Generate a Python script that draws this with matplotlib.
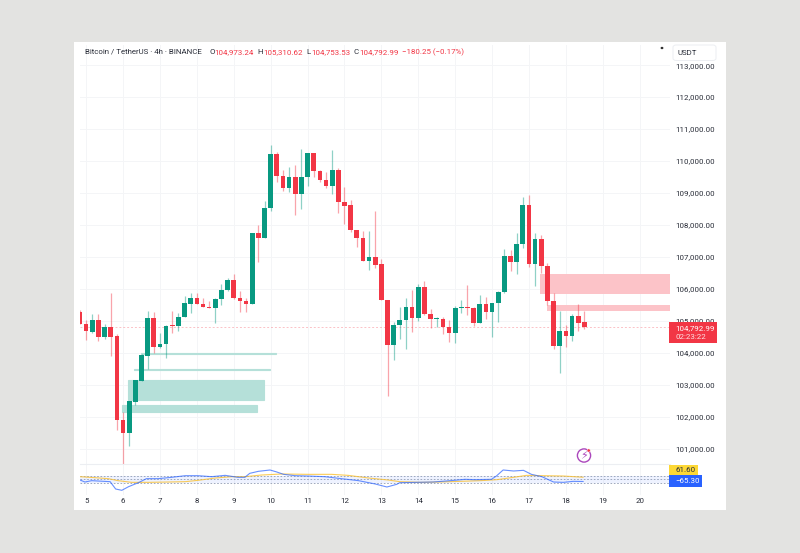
import numpy as np
import matplotlib
matplotlib.use('Agg')
import matplotlib.pyplot as plt
from matplotlib.patches import Rectangle, FancyBboxPatch, Circle

plt.rcParams['font.family'] = ['Roboto', 'DejaVu Sans']

# candles, 4h
opens = [105284, 104898, 104658, 105023, 104491, 104804, 104523, 101905, 101488, 102468,
         103125, 103907, 105076, 104189, 104262, 104867, 104836, 105128, 105524, 105701,
         105524, 105441, 105388, 105670, 105962, 106275, 105701, 105628, 105524, 107737,
         107601, 108529, 110229, 109531, 109166, 109510, 108978, 109489, 110240, 109698,
         109406, 109218, 109718, 108717, 108613, 107841, 107601, 106871, 106986, 106767,
         105651, 104253, 104869, 105015, 105422, 105088, 106047, 105202, 105046, 105067,
         104806, 104618, 105390, 105442, 105401, 104942, 105536, 105265, 105568, 105891,
         107028, 106850, 107392, 108612, 106766, 107559, 106724, 105619, 104211, 104670,
         104524, 105160, 104973.24]
highs = [105350, 105023, 105211, 105211, 104898, 105879, 104585, 102155, 102478, 103136,
         103960, 105305, 105274, 104606, 104867, 105295, 105253, 105774, 105858, 105879,
         105701, 105628, 105701, 106150, 106340, 106463, 105940, 105701, 107737, 107987,
         108748, 110501, 110282, 109718, 109823, 109875, 110375, 110261, 110240, 109718,
         109645, 110344, 109781, 109187, 108780, 107841, 107799, 107799, 108436, 106923,
         105651, 104973, 105422, 105724, 105964, 106152, 106235, 105380, 105130, 105109,
         105025, 105463, 105651, 106110, 105422, 105807, 105755, 105568, 105943, 107236,
         107216, 107758, 108883, 108936, 107736, 107684, 106797, 105859, 105316, 104868,
         105202, 105525, 105310.62]
lows = [104888, 104398, 104627, 104366, 104418, 103897, 101582, 100518, 101091, 102364,
        103125, 103490, 103980, 104158, 103845, 104627, 104669, 105128, 105253, 105524,
        105420, 105388, 104940, 105493, 105931, 105671, 105284, 105284, 105524, 106850,
        107601, 108436, 109353, 109061, 109030, 108310, 108498, 109218, 109489, 109343,
        109166, 108978, 108383, 108029, 107789, 107299, 106871, 106589, 106663, 105651,
        102658, 103774, 104420, 104107, 104660, 105004, 105182, 104775, 104817, 104598,
        104347, 104295, 105234, 105182, 104837, 104921, 105067, 104483, 104963, 105881,
        106558, 106475, 107288, 106693, 106088, 106485, 105494, 104106, 103355, 104190,
        104378, 104690, 104753.53]
closes = [104888, 104669, 105023, 104502, 104804, 104502, 101894, 101488, 102478, 103136,
          103918, 105076, 104189, 104272, 104846, 104836, 105128, 105545, 105701, 105524,
          105441, 105388, 105670, 105962, 106275, 105703, 105628, 105534, 107737, 107601,
          108529, 110229, 109531, 109166, 109510, 108978, 109499, 110240, 109698, 109406,
          109218, 109718, 108707, 108602, 107831, 107601, 106871, 106996, 106746, 105651,
          104253, 104869, 105025, 105422, 105088, 106047, 105202, 105046, 105077, 104806,
          104618, 105390, 105442, 105401, 104942, 105536, 105265, 105568, 105891, 107028,
          106850, 107393, 108612, 106766, 107559, 106724, 105629, 104211, 104670, 104524,
          105160, 104941, 104792.99]

# zones: first candle, low, high
green_zones = [(6.85, 102145, 102364), (7.85, 102520, 103146), (8.85, 103465, 103495), (9.85, 103965, 103995)]
red_zones = [(74.85, 105838, 106464), (75.85, 105316, 105494)]
green_zone_len = 22

# indicator lines: candle number, value
blue_i = [0, 0.8, 1.9, 4.9, 5.8, 6.8, 7.9, 9.5, 10.8, 12.7, 14.9, 17.1, 19.2, 21.4, 23.6, 25.7,
          26.8, 27.6, 29, 30.9, 32, 33.1, 35, 37.1, 39.8, 42.5, 45.3, 48, 49.9, 51.5, 52, 54.7,
          57.4, 60.2, 62.6, 64.2, 66.9, 67.7, 68.8, 70.5, 72.1, 73.4, 75.1, 77, 78.6, 80.2, 81.8]
blue_v = [-21, -81, -41, -71, -290, -329, -220, -101, 19, 19, 59, 108, 108, 78, 118, 59,
          59, 178, 238, 278, 218, 148, 108, 98, 78, 19, -41, -140, -230, -150, -101, -91,
          -81, -41, -1, -11, -1, 98, 278, 248, 268, 148, 78, -81, -91, -61, -65.3]
yellow_i = [0, 2.4, 4.6, 6.2, 8.4, 11.1, 14.4, 17.1, 19.2, 22, 24.7, 26.8, 29.5, 32.8, 37.1, 40.9,
            43.6, 46.9, 50.1, 52, 55.3, 58.5, 61.8, 65.1, 67.8, 70.5, 72.6, 75.3, 78.6, 81.8]
yellow_v = [78, 49, 19, -41, -91, -91, -81, -71, -31, 39, 78, 78, 128, 158, 148, 148,
            118, 39, -21, -71, -91, -81, -61, -41, -11, 59, 118, 108, 98, 61.6]

y_ticks = [101000 + 1000 * k for k in range(13)]
day_labels = [5, 6, 7, 8, 9, 10, 11, 12, 13, 14, 15, 16, 17, 18, 19, 20]
band_levels = [100, 0, -100]

GREEN = '#089981'
RED = '#f23645'
GRID = '#f4f5f7'
TXT = '#2a2e39'
FS = 5.7

W, H = 800, 553


def fx(px):
    return px / W


def fy(py):
    return 1 - py / H


def pane(x0, y0, x1, y1):
    # axes from pixel box
    return fig.add_axes([fx(x0), fy(y1), fx(x1) - fx(x0), fy(y0) - fy(y1)], facecolor='none')


def label(px, py, s, color=TXT, **kw):
    fig.text(fx(px), fy(py), s, color=color, fontsize=FS, va='center', **kw)


fig = plt.figure(figsize=(W / 100, H / 100), dpi=100, facecolor='#e3e3e1')
fig.add_artist(Rectangle((fx(73.5), fy(510)), fx(726) - fx(73.5), fy(42) - fy(510),
                         transform=fig.transFigure, facecolor='white', edgecolor='none', zorder=-1))

ax = pane(80, 45, 670, 464)
xmax = 95.93
ax.set_xlim(0, xmax)
ax.set_ylim(100516, 113631)

day_pos = [(d - 5) * 6 + 1 for d in day_labels]
ax.set_xticks(day_pos)
ax.set_xticklabels([])
ax.set_yticks(y_ticks)
ax.set_yticklabels([f'{v:,.2f}' for v in y_ticks])
ax.yaxis.tick_right()
ax.tick_params(axis='y', length=0, pad=3.6, labelsize=FS, labelcolor=TXT)
ax.tick_params(axis='x', length=0)
ax.grid(True, color=GRID, lw=0.7)
ax.set_axisbelow(True)
for s in ax.spines.values():
    s.set_visible(False)

for start, lo, hi in green_zones:
    ax.barh((lo + hi) / 2, green_zone_len, left=start, height=hi - lo, color='#b5e0d9', zorder=1.5,
            linewidth=0.8, edgecolor='#b5e0d9')
for start, lo, hi in red_zones:
    ax.barh((lo + hi) / 2, xmax - start, left=start, height=hi - lo, color='#fcc3c8', zorder=1.5)

o = np.array(opens)
h = np.array(highs)
l = np.array(lows)
c = np.array(closes)
idx = np.arange(len(o))
up = c >= o
ax.vlines(idx[up], l[up], h[up], color=GREEN, lw=0.9, alpha=0.45, zorder=2)
ax.vlines(idx[~up], l[~up], h[~up], color=RED, lw=0.9, alpha=0.45, zorder=2)
ax.bar(idx[up], np.abs(c - o)[up], bottom=np.minimum(o, c)[up], width=0.76, color=GREEN, zorder=3)
ax.bar(idx[~up], np.abs(c - o)[~up], bottom=np.minimum(o, c)[~up], width=0.76, color=RED, zorder=3)
ax.axhline(closes[-1], color=RED, lw=0.7, alpha=0.3, ls=(0, (2, 2)), zorder=1.8)

# indicator pane
ax2 = pane(80, 464, 670, 495)
ax2.set_xlim(0, xmax)
ax2.set_ylim(-469, 457)
ax2.set_xticks(day_pos)
ax2.set_xticklabels(day_labels)
ax2.set_yticks([])
ax2.tick_params(axis='x', length=0, pad=2.2, labelsize=FS, labelcolor=TXT)
ax2.grid(True, axis='x', color=GRID, lw=0.7)
ax2.set_axisbelow(True)
for s in ax2.spines.values():
    s.set_visible(False)
ax2.spines['top'].set_visible(True)
ax2.spines['top'].set_color('#eceef2')
ax2.spines['top'].set_linewidth(0.8)
ax2.axhspan(band_levels[2], band_levels[0], color='#2962ff', alpha=0.08, lw=0, zorder=1)
for lev in band_levels:
    ax2.axhline(lev, color='#8f9bb3', lw=0.6, ls=(0, (2, 2)), zorder=1.5)
ax2.plot(yellow_i, yellow_v, color='#fbc02d', lw=0.8, alpha=0.8, zorder=2)
ax2.plot(blue_i, blue_v, color='#2962ff', lw=0.8, alpha=0.7, zorder=3)

# header
label(85, 52, 'Bitcoin / TetherUS · 4h · BINANCE')
for px, vx, letter, val in [(209, 214, 'O', '104,973.24'), (257.5, 263, 'H', '105,310.62'),
                            (306.5, 311, 'L', '104,753.53'), (354, 359, 'C', '104,792.99')]:
    label(px, 52, letter)
    label(vx, 52, val, color=RED)
label(402, 52, '−180.25 (−0.17%)', color=RED)

# right side boxes
fig.add_artist(FancyBboxPatch((fx(673), fy(60.5)), fx(716) - fx(673), fy(45) - fy(60.5),
                              boxstyle='round,pad=0,rounding_size=0.004', transform=fig.transFigure,
                              facecolor='white', edgecolor='#eceef2', lw=0.7, zorder=2))
fig.text(fx(678), fy(53), 'USDT', color=TXT, fontsize=FS, va='center', zorder=3)
fig.add_artist(Circle((fx(662), fy(48)), 0.0009, transform=fig.transFigure, color='#333333', zorder=3))

fig.add_artist(Rectangle((fx(669), fy(343)), fx(717) - fx(669), fy(322) - fy(343),
                         transform=fig.transFigure, facecolor=RED, edgecolor='none', zorder=2))
fig.text(fx(675), fy(328), f'{closes[-1]:,.2f}', color='white', fontsize=FS, va='center', zorder=3)
fig.text(fx(675), fy(337), '02:23:22', color='#fde0e2', fontsize=FS, va='center', zorder=3)

fig.add_artist(Rectangle((fx(669), fy(475)), fx(698) - fx(669), fy(464.7) - fy(475),
                         transform=fig.transFigure, facecolor='#fdd835', edgecolor='none', zorder=2))
fig.text(fx(675), fy(470.3), f'{yellow_v[-1]:.2f}', color=TXT, fontsize=FS, va='center', zorder=3)
fig.add_artist(Rectangle((fx(669), fy(487)), fx(702) - fx(669), fy(475.3) - fy(487),
                         transform=fig.transFigure, facecolor='#2962ff', edgecolor='none', zorder=2))
fig.text(fx(675), fy(481.2), f'−{abs(blue_v[-1]):.2f}', color='white', fontsize=FS, va='center', zorder=3)

# lightning badge
badge = fig.add_axes([fx(575), fy(464.5), fx(18), fy(0) - fy(18)], facecolor='none')
badge.set_xlim(0, 18)
badge.set_ylim(18, 0)
badge.axis('off')
badge.add_patch(Circle((9, 9), 6.6, facecolor='white', edgecolor='#ab47bc', lw=1.0))
badge.text(9, 9.2, '⚡', color='#ab47bc', fontsize=8, ha='center', va='center', family='DejaVu Sans')
badge.add_patch(Circle((13.7, 4), 1.6, facecolor=RED, edgecolor='white', lw=0.3))

fig.savefig('out.png', dpi=100, facecolor=fig.get_facecolor())
